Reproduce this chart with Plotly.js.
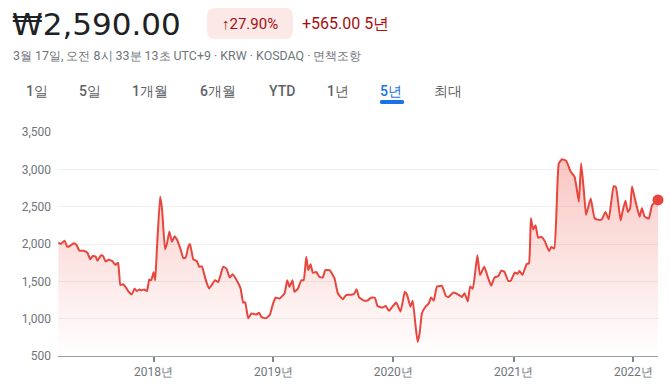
<!DOCTYPE html>
<html>
<head>
<meta charset="utf-8">
<script src="https://cdn.plot.ly/plotly-3.0.1.min.js"></script>
<style>
  html, body { margin: 0; padding: 0; background: #fff; }
  #chart { width: 670px; height: 392px; }
</style>
</head>
<body>
<div id="chart"></div>
<script>
// ---- data ----
const dates = ['2017-03-17','2017-03-24','2017-04-05','2017-04-13','2017-04-20','2017-05-03','2017-05-11','2017-05-20','2017-06-02','2017-06-14','2017-06-22','2017-06-30','2017-07-09','2017-07-14','2017-07-25','2017-07-31','2017-08-08','2017-08-17','2017-08-28','2017-09-07','2017-09-15','2017-09-22','2017-09-30','2017-10-07','2017-10-17','2017-10-27','2017-11-04','2017-11-11','2017-11-19','2017-11-26','2017-12-03','2017-12-12','2017-12-19','2017-12-25',
'2018-01-01','2018-01-06','2018-01-11','2018-01-21','2018-01-27','2018-02-05','2018-02-11','2018-02-18','2018-02-26','2018-03-06','2018-03-13','2018-03-23','2018-04-02','2018-04-09','2018-04-17','2018-04-22','2018-05-02','2018-05-13','2018-05-20','2018-05-28','2018-06-04','2018-06-12','2018-06-19','2018-06-27','2018-07-07','2018-07-17','2018-08-01','2018-08-11','2018-08-21','2018-08-30','2018-09-11','2018-09-23','2018-10-01','2018-10-07','2018-10-16','2018-10-26','2018-11-10','2018-11-18','2018-11-26','2018-12-09','2018-12-21','2018-12-31',
'2019-01-08','2019-01-20','2019-02-04','2019-02-12','2019-02-19','2019-02-28','2019-03-06','2019-03-16','2019-03-27','2019-04-03','2019-04-11','2019-04-17','2019-04-24','2019-05-01','2019-05-11','2019-05-21','2019-05-31','2019-06-08','2019-06-21','2019-07-06','2019-07-16','2019-07-31','2019-08-10','2019-08-25','2019-09-04','2019-09-11','2019-09-19','2019-10-05','2019-10-15','2019-10-25','2019-11-06','2019-11-14','2019-11-29','2019-12-09','2019-12-19','2019-12-29',
'2020-01-10','2020-01-23','2020-02-05','2020-02-12','2020-02-22','2020-02-29','2020-03-08','2020-03-15','2020-03-21','2020-03-28','2020-04-08','2020-04-18','2020-04-25','2020-05-03','2020-05-13','2020-05-28','2020-06-09','2020-06-17','2020-07-02','2020-07-18','2020-07-28','2020-08-05','2020-08-15','2020-08-22','2020-08-30','2020-09-13','2020-09-21','2020-10-04','2020-10-15','2020-10-25','2020-11-04','2020-11-16','2020-11-24','2020-12-04','2020-12-16','2020-12-24',
'2021-01-05','2021-01-13','2021-01-19','2021-01-28','2021-02-10','2021-02-17','2021-02-23','2021-03-02','2021-03-09','2021-03-17','2021-03-27','2021-04-06','2021-04-19','2021-04-26','2021-05-05','2021-05-12','2021-05-19','2021-05-29','2021-06-11','2021-06-24','2021-07-06','2021-07-14','2021-07-19','2021-07-26','2021-08-03','2021-08-10','2021-08-24','2021-09-05','2021-09-20','2021-09-27','2021-10-08','2021-10-18','2021-11-02','2021-11-09','2021-11-23','2021-11-30','2021-12-08','2021-12-15','2021-12-22','2021-12-28',
'2022-01-06','2022-01-20','2022-01-27','2022-02-04','2022-02-17','2022-02-27','2022-03-17'];

const prices = [2020,2000,2045,1965,1970,2010,1990,1910,1910,1880,1795,1840,1830,1775,1850,1840,1765,1790,1770,1720,1750,1450,1460,1430,1360,1325,1405,1370,1390,1380,1390,1370,1525,1515,
1620,1515,1920,2635,2455,1930,2010,2165,2030,2105,2060,1945,1810,1820,1965,2000,1795,1770,1695,1700,1600,1475,1405,1450,1515,1490,1695,1670,1550,1595,1515,1405,1215,1220,1005,1070,1055,1080,1020,1005,1050,1205,
1280,1270,1340,1515,1425,1515,1360,1400,1515,1515,1830,1650,1730,1615,1625,1560,1550,1650,1650,1540,1340,1260,1315,1320,1335,1395,1285,1240,1245,1280,1280,1170,1150,1170,1105,1160,
1215,1095,1360,1320,1160,1240,940,690,800,1070,1160,1205,1285,1240,1430,1440,1305,1290,1350,1320,1290,1340,1230,1430,1400,1850,1585,1695,1555,1440,1550,1570,1640,1630,1505,1510,
1620,1600,1640,1585,1730,1740,2345,2195,2250,2085,2095,2040,1905,1960,1940,2455,3080,3135,3110,2970,2900,2700,2565,3080,2725,2390,2610,2345,2320,2330,2430,2330,2775,2760,2315,2455,2580,2430,2475,2770,
2600,2365,2480,2370,2340,2520,2590];

const yTicks = [500, 1000, 1500, 2000, 2500, 3000, 3500];
const xTickDates = ['2018-01-01','2019-01-01','2020-01-01','2021-01-01','2022-01-01'];
const xTickLabels = ['2018년','2019년','2020년','2021년','2022년'];

const priceText = '₩2,590.00';
const changePct = '↑27.90%';
const changeAbs = '+565.00 5년';
const subtitle = '3월 17일, 오전 8시 33분 13초 UTC+9 · KRW · KOSDAQ · 면책조항';
const tabs = ['1일','5일','1개월','6개월','YTD','1년','5년','최대'];
const activeTab = '5년';

// ---- layout helpers (pixel -> paper) ----
const M = {l: 58, r: 12, t: 132, b: 36};
const W = 670 - M.l - M.r, H = 392 - M.t - M.b;
const px = x => (x - M.l) / W;
const py = y => (392 - M.b - y) / H;

function roundRect(x0, y0, x1, y1, r) {
  const X = v => px(v).toFixed(5), Y = v => py(v).toFixed(5);
  return `M${X(x0+r)},${Y(y0)} L${X(x1-r)},${Y(y0)} Q${X(x1)},${Y(y0)} ${X(x1)},${Y(y0+r)} ` +
         `L${X(x1)},${Y(y1-r)} Q${X(x1)},${Y(y1)} ${X(x1-r)},${Y(y1)} L${X(x0+r)},${Y(y1)} ` +
         `Q${X(x0)},${Y(y1)} ${X(x0)},${Y(y1-r)} L${X(x0)},${Y(y0+r)} Q${X(x0)},${Y(y0)} ${X(x0+r)},${Y(y0)} Z`;
}

const FONT = 'Roboto, Arial, sans-serif';
const RED = '#e8453c';

const traces = [
  {
    x: dates, y: prices, type: 'scatter', mode: 'lines',
    line: {color: RED, width: 2, shape: 'spline', smoothing: 0.4},
    fill: 'tozeroy',
    fillgradient: {type: 'vertical', start: 500, stop: 3150,
      colorscale: [[0, 'rgba(234,67,53,0)'], [1, 'rgba(234,67,53,0.30)']]},
    hoverinfo: 'skip'
  },
  {
    x: [dates[dates.length - 1]], y: [prices[prices.length - 1]],
    type: 'scatter', mode: 'markers',
    marker: {color: RED, size: 11}, hoverinfo: 'skip', cliponaxis: false
  }
];

const tabX = [37, 90, 150, 218, 282, 338, 391, 448];
const annotations = [
  {text: priceText, x: px(10), y: py(24), xanchor: 'left', yanchor: 'middle',
   font: {size: 31, color: '#202124', family: '"DejaVu Sans", Roboto, sans-serif'}},
  {text: changePct, x: px(250), y: py(24), xanchor: 'center', yanchor: 'middle',
   font: {size: 15, color: '#a50e0e', family: FONT}},
  {text: changeAbs, x: px(300), y: py(24), xanchor: 'left', yanchor: 'middle',
   font: {size: 16, color: '#a50e0e', family: FONT}},
  {text: subtitle, x: px(11), y: py(55), xanchor: 'left', yanchor: 'middle',
   font: {size: 12.4, color: '#70757a', family: FONT}}
];
tabs.forEach((t, i) => annotations.push({
  text: t, x: px(tabX[i]), y: py(91), xanchor: 'center', yanchor: 'middle',
  font: {size: 14, color: t === activeTab ? '#1a73e8' : '#5f6368', family: FONT, weight: 500}
}));
annotations.forEach(a => { a.xref = 'paper'; a.yref = 'paper'; a.showarrow = false; });

const shapes = [
  {type: 'path', xref: 'paper', yref: 'paper', path: roundRect(207, 8, 293, 39, 8),
   fillcolor: '#fce8e6', line: {width: 0}, layer: 'below'},
  {type: 'path', xref: 'paper', yref: 'paper', path: roundRect(380, 100, 404, 104, 1.5),
   fillcolor: '#1a73e8', line: {width: 0}}
];

const layout = {
  width: 670, height: 392,
  margin: M,
  paper_bgcolor: '#fff', plot_bgcolor: '#fff',
  showlegend: false,
  font: {family: FONT, color: '#70757a', size: 12},
  xaxis: {
    type: 'date', range: ['2017-03-16', '2022-03-17'],
    showgrid: false, zeroline: false,
    showline: true, linecolor: '#9aa0a6', linewidth: 1,
    tickmode: 'array', tickvals: xTickDates, ticktext: xTickLabels,
    ticks: 'outside', ticklen: 5, tickwidth: 2, tickcolor: '#80868b',
    tickfont: {size: 12, color: '#70757a'}, fixedrange: true
  },
  yaxis: {
    range: [500, 3500], tickmode: 'array', tickvals: yTicks, tickformat: ',d',
    showgrid: true, gridcolor: '#eeeeee', gridwidth: 1, zeroline: false,
    showline: false, ticks: '', ticklabelstandoff: 6,
    tickfont: {size: 12, color: '#70757a'}, fixedrange: true
  },
  annotations: annotations,
  shapes: shapes
};

Plotly.newPlot('chart', traces, layout, {displayModeBar: false, staticPlot: true});
</script>
</body>
</html>
